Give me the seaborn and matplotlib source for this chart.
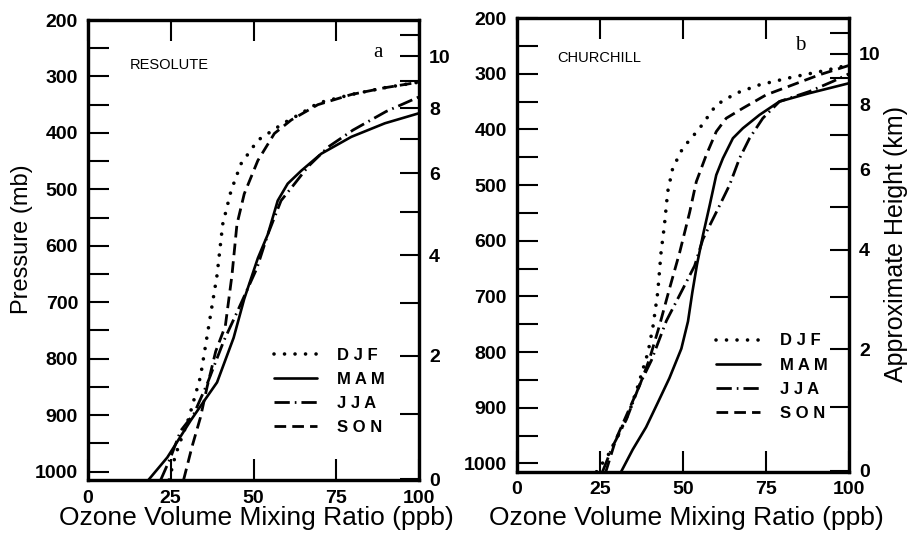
import numpy as np
import pandas as pd
import seaborn as sns
from matplotlib import pyplot as plt
from matplotlib.lines import Line2D

# ozone mixing ratio (ppb) vs pressure (mb)
res_djf_x = [24.5, 26.5, 30.5, 34, 36.5, 39, 40.7, 43.2, 46.2, 51.3, 59, 64.5, 69.5, 79.5, 89.5, 100]
res_djf_p = [1015, 970, 905, 832, 742, 652, 562, 503, 455, 413, 383, 365, 347, 332, 320, 310]
res_mam_x = [18.3, 24, 31, 34.5, 39, 44, 47.2, 51.3, 54.3, 57.3, 60.3, 64.4, 70.4, 79.5, 89.6, 100]
res_mam_p = [1015, 975, 910, 880, 842, 763, 694, 622, 580, 520, 490, 467, 437, 407, 383, 365]
res_jja_x = [22, 25, 28, 32, 36, 41, 45, 51, 54.3, 58.3, 62.4, 66.4, 72.5, 80, 90, 100]
res_jja_p = [1015, 975, 928, 898, 845, 769, 718, 640, 580, 520, 490, 460, 425, 395, 362, 336]
res_son_x = [28.9, 31.5, 34, 36, 38.6, 41.5, 43.5, 45, 47.2, 51.3, 56.3, 61.4, 69.4, 79.5, 89.6, 100]
res_son_p = [1015, 955, 904, 850, 787, 742, 652, 562, 508, 449, 401, 377, 350, 332, 320, 310]

chu_djf_x = [24, 27.5, 30.5, 34, 36.5, 39.5, 41, 42.4, 43.4, 44.4, 45.4, 46.9, 49.9, 55, 60, 66, 73, 83, 93, 100]
chu_djf_p = [1015, 985, 950, 905, 860, 800, 753, 693, 621, 573, 512, 470, 434, 398, 356, 335, 320, 306, 294, 284]
chu_mam_x = [31.4, 34.9, 38.9, 42.5, 45.9, 49.5, 51.5, 52.8, 54.2, 56, 58, 60, 62, 65, 68, 73, 79, 88, 100]
chu_mam_p = [1015, 975, 935, 890, 847, 794, 745, 693, 643, 590, 537, 482, 452, 416, 398, 374, 350, 335, 317]
chu_jja_x = [25.8, 28.8, 33, 37, 40.5, 45, 50, 53.5, 56, 60, 64, 67, 70, 74, 79, 88, 95, 100]
chu_jja_p = [1015, 970, 921, 858, 815, 744, 686, 645, 597, 549, 500, 452, 416, 380, 350, 332, 314, 300]
chu_son_x = [26.8, 29.8, 32.9, 36.9, 39.9, 42.9, 45.9, 49, 52, 54, 57, 60, 63, 68, 75, 83, 91, 100]
chu_son_p = [1015, 957, 915, 861, 813, 753, 687, 621, 549, 494, 446, 404, 380, 362, 338, 320, 302, 285]

seasons = ['DJF', 'MAM', 'JJA', 'SON']
stations = ['RESOLUTE', 'CHURCHILL']
panel_tags = ['a', 'b']
height_km = np.arange(0, 12)

series = {
    'RESOLUTE': {'DJF': (res_djf_x, res_djf_p), 'MAM': (res_mam_x, res_mam_p),
                 'JJA': (res_jja_x, res_jja_p), 'SON': (res_son_x, res_son_p)},
    'CHURCHILL': {'DJF': (chu_djf_x, chu_djf_p), 'MAM': (chu_mam_x, chu_mam_p),
                  'JJA': (chu_jja_x, chu_jja_p), 'SON': (chu_son_x, chu_son_p)},
}

rows = []
for st in stations:
    for s in seasons:
        x, p = series[st][s]
        rows += [{'station': st, 'season': s, 'ozone': xi, 'pressure': pi} for xi, pi in zip(x, p)]
df = pd.DataFrame(rows)

sns.set_style('ticks', {'axes.edgecolor': 'black', 'text.color': 'black',
                        'axes.labelcolor': 'black', 'xtick.color': 'black',
                        'ytick.color': 'black'})
plt.rcParams['font.family'] = ['Liberation Sans', 'DejaVu Sans']

styles = {'DJF': dict(linestyle=(0, (0.01, 2.9)), linewidth=2.6, dash_capstyle='round'),
          'MAM': dict(linestyle='-', linewidth=1.9),
          'JJA': dict(linestyle=(0, (5.5, 1.8, 0.6, 1.8)), linewidth=2.0),
          'SON': dict(linestyle=(0, (4.2, 2.2)), linewidth=2.0)}

# standard atmosphere pressure for the height axis
def height_to_p(h):
    return 1013.25 * (1 - 0.022558 * h) ** 5.2559

tick_font = dict(weight='bold', size=14)

fig = plt.figure(figsize=(9.1, 5.35), dpi=100)
positions = [[0.0964, 0.1028, 0.3644, 0.8598], [0.5678, 0.1183, 0.3655, 0.848]]
legend_anchor = [(0.515, 0.32), (0.555, 0.338)]
xlabel_y = [-0.057, -0.076]
label_pos = [(0.128, 0.902), (0.121, 0.912)]
tag_pos = [(0.86, 0.93), (0.837, 0.94)]

for i, st in enumerate(stations):
    ax = fig.add_axes(positions[i])
    sub = df[df['station'] == st]
    for s in seasons:
        d = sub[sub['season'] == s]
        sns.lineplot(data=d, x='ozone', y='pressure', sort=False, estimator=None,
                     color='black', ax=ax, **styles[s])
    ax.set_xlim(0, 100)
    ax.set_ylim(1015, 200)
    ax.set_xticks([0, 25, 50, 75, 100])
    ax.set_yticks(range(200, 1001, 100))
    ax.set_yticks(range(250, 1000, 100), minor=True)
    ax.tick_params(which='both', direction='in', length=15, width=1.5,
                   top=True, right=False, pad=7)
    for lab in ax.get_xticklabels() + ax.get_yticklabels():
        lab.set(**tick_font)
    for sp in ax.spines.values():
        sp.set_linewidth(2.3)
    ax.set_xlabel('Ozone Volume Mixing Ratio (ppb)', fontsize=19)
    ax.xaxis.set_label_coords(0.51, xlabel_y[i])
    if i == 0:
        ax.set_ylabel('Pressure (mb)', fontsize=17)
        ax.yaxis.set_label_coords(-0.165, 0.524)
    else:
        ax.set_ylabel('')

    ax2 = ax.twinx()
    ax2.set_ylim(ax.get_ylim())
    ax2.set_yticks([height_to_p(h) for h in height_km])
    ax2.set_yticklabels([str(h) if h % 2 == 0 else '' for h in height_km])
    ax2.tick_params(direction='in', length=14, width=1.5, pad=7)
    for lab in ax2.get_yticklabels():
        lab.set(**tick_font)
    for sp in ax2.spines.values():
        sp.set_linewidth(2.3)
    if i == 1:
        ax2.set_ylabel('Approximate Height (km)', fontsize=18)
        ax2.yaxis.set_label_coords(1.105, 0.502)

    ax.text(*label_pos[i], st, transform=ax.transAxes, fontsize=10.5, va='center')
    ax.text(*tag_pos[i], panel_tags[i], transform=ax.transAxes, fontsize=15,
            family='Liberation Serif', va='center')

    handles = [Line2D([], [], color='black', **styles[s]) for s in seasons]
    ax.legend(handles, [' '.join(s) for s in seasons], loc='upper left',
              bbox_to_anchor=legend_anchor[i], frameon=False, handlelength=2.6,
              handletextpad=1.2, labelspacing=0.55,
              prop=dict(weight='bold', size=12))

fig.savefig('out.png', dpi=100)
